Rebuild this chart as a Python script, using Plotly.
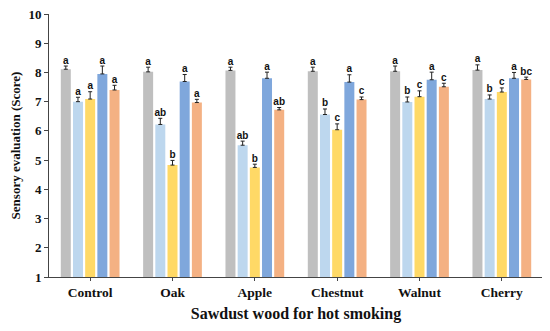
import plotly.graph_objects as go

categories = ["Control", "Oak", "Apple", "Chestnut", "Walnut", "Cherry"]
series_names = ["S1", "S2", "S3", "S4", "S5"]
colors = ["#BFBFBF", "#BDD7EE", "#FFD966", "#7FA7DC", "#F4B183"]

values = [
    [8.11, 8.02, 8.07, 8.04, 8.04, 8.08],
    [7.00, 6.22, 5.51, 6.56, 6.99, 7.09],
    [7.09, 4.83, 4.75, 6.04, 7.17, 7.33],
    [7.95, 7.69, 7.80, 7.67, 7.75, 7.80],
    [7.40, 6.97, 6.72, 7.07, 7.51, 7.76],
]
errors = [
    [0.11, 0.16, 0.11, 0.14, 0.18, 0.18],
    [0.15, 0.21, 0.14, 0.19, 0.17, 0.14],
    [0.25, 0.16, 0.11, 0.20, 0.20, 0.14],
    [0.27, 0.24, 0.21, 0.25, 0.26, 0.20],
    [0.16, 0.11, 0.08, 0.09, 0.12, 0.08],
]
letters = [
    ["a", "a", "a", "a", "a", "a"],
    ["a", "ab", "ab", "b", "b", "b"],
    ["a", "b", "b", "c", "c", "c"],
    ["a", "a", "a", "a", "a", "a"],
    ["a", "a", "ab", "c", "c", "bc"],
]

fig = go.Figure()
for i, name in enumerate(series_names):
    fig.add_trace(go.Bar(
        x=categories, y=values[i], name=name, offsetgroup=str(i),
        marker=dict(color=colors[i], line=dict(width=0)),
        error_y=dict(type="data", array=errors[i], arrayminus=[0] * len(errors[i]),
                     symmetric=False, color="#222222", thickness=1, width=2),
        showlegend=False,
    ))
for i, name in enumerate(series_names):
    fig.add_trace(go.Scatter(
        x=categories, y=[v + e for v, e in zip(values[i], errors[i])],
        mode="text", text=letters[i], textposition="top center",
        offsetgroup=str(i),
        textfont=dict(family="Liberation Sans", size=10, color="#111111", weight="bold"),
        showlegend=False, cliponaxis=False,
    ))

# page body has an 8px margin, so the figure is sized/offset to compensate
fig.update_layout(
    width=542, height=323,
    margin=dict(l=41, r=7, t=6, b=54),
    paper_bgcolor="white", plot_bgcolor="white",
    barmode="group", bargap=0.26, bargroupgap=0.18,
    scattermode="group", scattergap=0.26,
    font=dict(family="Liberation Serif", color="#111111"),
    xaxis=dict(
        automargin=False,
        showline=True, linecolor="#444444", linewidth=1,
        ticks="outside", ticklen=3, tickcolor="#444444",
        tickfont=dict(family="Liberation Serif", size=13.5, weight="bold"),
        title=dict(text="<b>Sawdust wood for hot smoking</b>",
                   font=dict(family="Liberation Serif", size=16), standoff=8),
    ),
    yaxis=dict(
        automargin=False, ticklabeloverflow="allow",
        range=[1, 10], dtick=1, showgrid=False, zeroline=False,
        showline=True, linecolor="#444444", linewidth=1,
        ticks="outside", ticklen=4, tickcolor="#444444",
        tickfont=dict(family="Liberation Serif", size=13, weight="bold"),
        title=dict(text="<b>Sensory evaluation (Score)</b>",
                   font=dict(family="Liberation Serif", size=13), standoff=10),
    ),
)

fig.write_html("out.html")
